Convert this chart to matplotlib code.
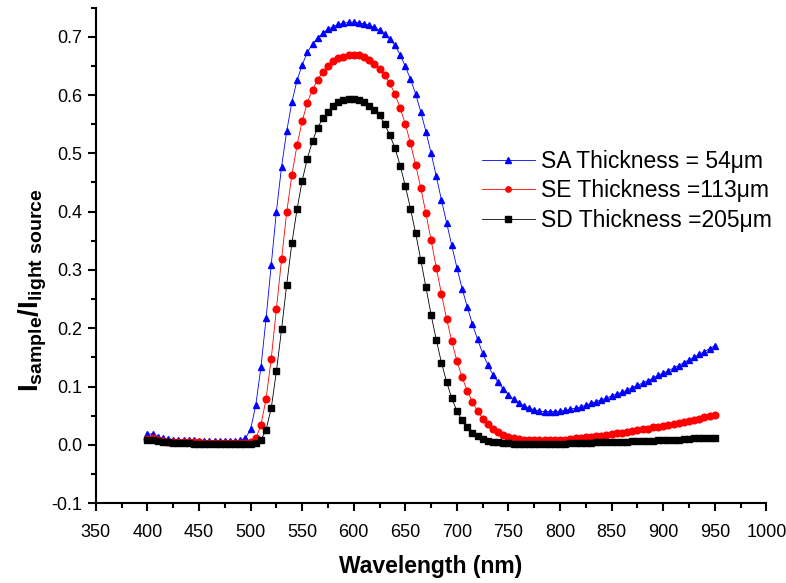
import numpy as np
import matplotlib
matplotlib.use("Agg")
import matplotlib.pyplot as plt
from matplotlib.ticker import MultipleLocator

plt.rcParams['font.family'] = ['Liberation Sans', 'DejaVu Sans']
plt.rcParams['mathtext.fontset'] = 'custom'
plt.rcParams['mathtext.rm'] = 'Liberation Sans'
plt.rcParams['mathtext.bf'] = 'Liberation Sans:bold'

# wavelength grid (nm), one sample every 5 nm
wavelength = np.arange(400, 951, 5)

# SA, thickness 54 um
sa_ratio = [
    0.018, 0.019, 0.014, 0.011, 0.010, 0.009, 0.009, 0.008, 0.008, 0.008,
    0.007, 0.007, 0.007, 0.007, 0.007, 0.007, 0.007, 0.007, 0.008, 0.011,
    0.027, 0.068, 0.133, 0.217, 0.309, 0.400, 0.477, 0.538, 0.588, 0.625,
    0.652, 0.673, 0.688, 0.698, 0.706, 0.713, 0.717, 0.721, 0.723, 0.725,
    0.725, 0.724, 0.722, 0.720, 0.716, 0.711, 0.704, 0.696, 0.685, 0.669,
    0.649, 0.627, 0.602, 0.571, 0.537, 0.500, 0.461, 0.420, 0.381, 0.342,
    0.304, 0.268, 0.237, 0.207, 0.181, 0.157, 0.137, 0.120, 0.107, 0.095,
    0.086, 0.078, 0.072, 0.067, 0.063, 0.060, 0.058, 0.057, 0.057, 0.057,
    0.058, 0.059, 0.061, 0.063, 0.065, 0.068, 0.071, 0.074, 0.077, 0.080,
    0.084, 0.087, 0.090, 0.094, 0.098, 0.102, 0.106, 0.110, 0.114, 0.119,
    0.123, 0.127, 0.132, 0.136, 0.141, 0.146, 0.150, 0.155, 0.160, 0.165,
    0.170,
]

# SE, thickness 113 um
se_ratio = [
    0.010, 0.011, 0.008, 0.006, 0.005, 0.005, 0.005, 0.004, 0.004, 0.004,
    0.004, 0.003, 0.003, 0.003, 0.003, 0.003, 0.003, 0.003, 0.003, 0.003,
    0.004, 0.011, 0.034, 0.079, 0.148, 0.233, 0.318, 0.399, 0.463, 0.514,
    0.555, 0.587, 0.609, 0.626, 0.640, 0.650, 0.658, 0.663, 0.666, 0.668,
    0.669, 0.668, 0.665, 0.660, 0.653, 0.645, 0.634, 0.620, 0.601, 0.578,
    0.550, 0.517, 0.480, 0.440, 0.397, 0.351, 0.304, 0.259, 0.216, 0.178,
    0.144, 0.116, 0.093, 0.074, 0.058, 0.045, 0.035, 0.028, 0.022, 0.017,
    0.014, 0.012, 0.010, 0.009, 0.008, 0.008, 0.008, 0.008, 0.008, 0.008,
    0.009, 0.009, 0.010, 0.011, 0.012, 0.013, 0.014, 0.015, 0.016, 0.017,
    0.018, 0.020, 0.021, 0.022, 0.024, 0.025, 0.027, 0.028, 0.030, 0.031,
    0.033, 0.034, 0.036, 0.037, 0.039, 0.041, 0.043, 0.045, 0.047, 0.049,
    0.052,
]

# SD, thickness 205 um
sd_ratio = [
    0.009, 0.008, 0.006, 0.004, 0.004, 0.003, 0.003, 0.003, 0.003, 0.002,
    0.002, 0.002, 0.002, 0.002, 0.002, 0.002, 0.002, 0.002, 0.002, 0.002,
    0.002, 0.003, 0.008, 0.026, 0.063, 0.126, 0.198, 0.275, 0.346, 0.404,
    0.453, 0.491, 0.521, 0.544, 0.560, 0.571, 0.581, 0.588, 0.592, 0.594,
    0.594, 0.592, 0.588, 0.582, 0.575, 0.565, 0.550, 0.531, 0.509, 0.479,
    0.444, 0.405, 0.363, 0.317, 0.270, 0.223, 0.180, 0.141, 0.108, 0.080,
    0.058, 0.042, 0.030, 0.021, 0.015, 0.010, 0.007, 0.005, 0.004, 0.003,
    0.003, 0.002, 0.002, 0.002, 0.002, 0.002, 0.002, 0.002, 0.002, 0.002,
    0.002, 0.002, 0.003, 0.003, 0.003, 0.003, 0.003, 0.004, 0.004, 0.004,
    0.004, 0.005, 0.005, 0.005, 0.006, 0.006, 0.006, 0.007, 0.007, 0.008,
    0.008, 0.008, 0.009, 0.009, 0.010, 0.010, 0.011, 0.011, 0.011, 0.012,
    0.012,
]

series = [
    ("SA Thickness = 54\u03bcm", sa_ratio, "#0000ff", "^"),
    ("SE Thickness =113\u03bcm", se_ratio, "#ff0000", "o"),
    ("SD Thickness =205\u03bcm", sd_ratio, "#000000", "s"),
]

fig = plt.figure(figsize=(7.86, 5.83), dpi=100)
ax = fig.add_axes([0.122, 0.137, 0.853, 0.850])

for label, vals, col, mk in series:
    ax.plot(wavelength, vals, color=col, lw=0.6, marker=mk, ms=4.8,
            mec=col, mfc=col, label=label)

ax.set_xlim(350, 1000)
ax.set_ylim(-0.1, 0.75)
ax.xaxis.set_major_locator(MultipleLocator(50))
ax.xaxis.set_minor_locator(MultipleLocator(25))
ax.yaxis.set_minor_locator(MultipleLocator(0.05))
yticks = np.arange(-0.1, 0.71, 0.1)
ax.set_yticks(yticks)
ax.set_yticklabels(["%.1f" % v for v in yticks])

for s in ("top", "right"):
    ax.spines[s].set_visible(False)
for s in ("left", "bottom"):
    ax.spines[s].set_linewidth(1.5)
ax.tick_params(which="major", direction="out", length=6, width=1.5,
               labelsize=13, pad=4)
ax.tick_params(which="minor", direction="out", length=3.5, width=1.5)
ax.tick_params(axis="x", which="major", pad=9)

ax.set_xlabel("Wavelength (nm)", fontsize=16.5, fontweight="bold", labelpad=10)
ax.set_ylabel(r"$\mathbf{I}_{\mathbf{sample}}\mathbf{/I}_{\mathbf{light\ source}}$",
              fontsize=20)
ax.yaxis.set_label_coords(-0.07, 0.43)

ax.legend(loc="upper left", bbox_to_anchor=(0.545, 0.755), frameon=False,
          fontsize=16.5, handlelength=2.3, numpoints=1, markerscale=0.8,
          labelspacing=0.3, handletextpad=0.26)

fig.savefig("out.png", dpi=100)
